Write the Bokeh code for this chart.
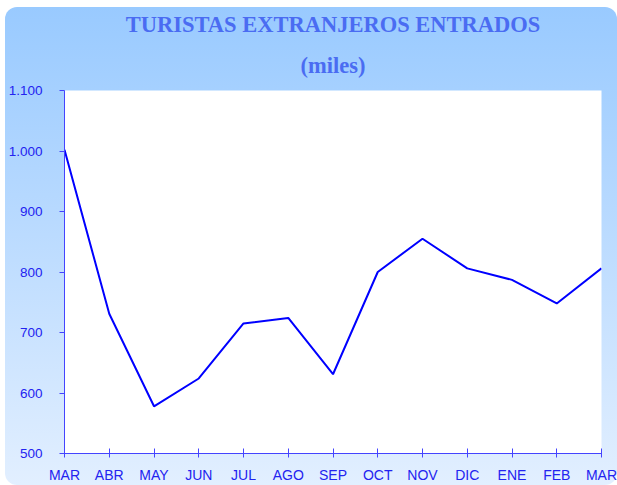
from bokeh.plotting import figure
from bokeh.models import Range1d, FixedTicker, Title, ColumnDataSource
from bokeh.embed import file_html
from bokeh.resources import INLINE

months = ["MAR", "ABR", "MAY", "JUN", "JUL", "AGO", "SEP", "OCT", "NOV", "DIC", "ENE", "FEB", "MAR"]
tourists = [1002, 731, 578, 624, 715, 724, 631, 800, 855, 806, 787, 748, 806]
y_ticks = [500, 600, 700, 800, 900, 1000, 1100]

title_main = "TURISTAS EXTRANJEROS ENTRADOS"
title_sub = "(miles)"

x_idx = list(range(len(months)))
src = ColumnDataSource(data=dict(x=x_idx, y=tourists))

p = figure(width=612, height=478, output_backend="svg", toolbar_location=None,
           x_range=Range1d(0, len(months) - 1), y_range=Range1d(min(y_ticks), max(y_ticks)),
           min_border_left=58, min_border_right=16, min_border_top=83, min_border_bottom=30)

p.styles = {"background": "linear-gradient(to bottom, #99caff 0%, #b9daff 45%, #e2efff 100%)",
            "border-radius": "12px", "margin-left": "5px", "margin-top": "7px"}
p.border_fill_color = None
p.background_fill_color = "white"
p.outline_line_color = None
p.grid.visible = False

p.line("x", "y", source=src, line_color="#0000ff", line_width=2)

label_color = "#2323f0"
axis_color = "#4444ff"

xa = p.xaxis[0]
xa.ticker = FixedTicker(ticks=x_idx)
xa.major_label_overrides = {i: m for i, m in enumerate(months)}
xa.axis_line_color = axis_color
xa.major_tick_line_color = axis_color
xa.major_tick_in = 5
xa.major_tick_out = 4
xa.minor_tick_line_color = None
xa.major_label_standoff = 9
xa.major_label_text_font = "Liberation Sans"
xa.major_label_text_font_size = "14px"
xa.major_label_text_color = label_color

ya = p.yaxis[0]
ya.ticker = FixedTicker(ticks=y_ticks)
ya.major_label_overrides = {t: f"{t:,}".replace(",", ".") for t in y_ticks}
ya.axis_line_color = axis_color
ya.major_tick_line_color = axis_color
ya.major_tick_in = 0
ya.major_tick_out = 5
ya.minor_tick_line_color = None
ya.major_label_standoff = 17
ya.major_label_text_font = "Liberation Sans"
ya.major_label_text_font_size = "13.5px"
ya.major_label_text_color = label_color

title_color = "#4a6cf2"
p.title.visible = False
sub = Title(text=title_sub, align="center", text_font="Liberation Serif", text_font_style="bold",
            text_font_size="22.5px", text_color=title_color, standoff=26)
main = Title(text=title_main, align="center", text_font="Liberation Serif", text_font_style="bold",
             text_font_size="22.5px", text_color=title_color, standoff=2)
p.add_layout(sub, "above")
p.add_layout(main, "above")

open("out.html", "w").write(file_html(p, INLINE))
